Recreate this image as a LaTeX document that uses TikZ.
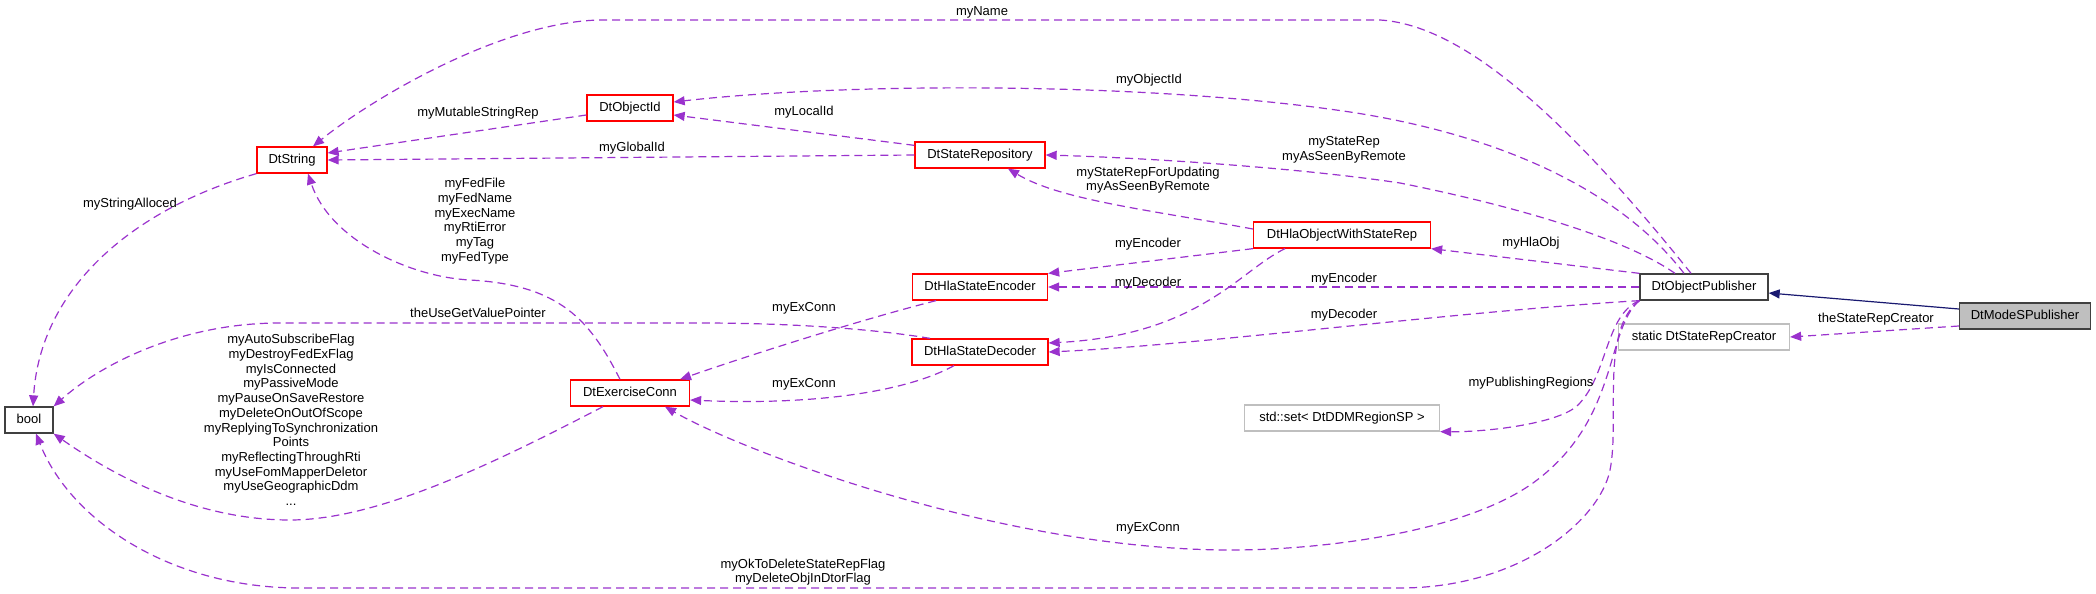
\documentclass[tikz,border=0pt]{standalone}
\usepackage{fontspec}
\setmainfont{Liberation Sans}
\usetikzlibrary{arrows.meta}
\definecolor{usecol}{HTML}{9A32CD}
\definecolor{navy}{HTML}{191970}
\definecolor{boxgray}{HTML}{BFBFBF}
\definecolor{boxdark}{HTML}{404040}
\begin{document}
\begin{tikzpicture}[x=1pt,y=-1pt,
   font=\fontsize{13}{14.7}\selectfont,
   box/.style={draw,line width=1.3pt,minimum height=26pt,inner xsep=11pt,inner ysep=0pt,text height=9.5pt,text depth=2.5pt},
   redbox/.style={box,draw=red},
   blackbox/.style={box,draw=boxdark},
   extbox/.style={box,draw=boxgray},
   uses/.style={draw=usecol,line width=1.2pt,dash pattern=on 8pt off 5pt,-{Triangle[length=11pt,width=9pt]}},
   inherit/.style={draw=navy,line width=1.2pt,-{Triangle[length=11pt,width=9pt]}},
   lbl/.style={align=center,inner sep=0pt}]
   \useasboundingbox (0,0) rectangle (2096,594);
   % classes
   \node[blackbox,minimum width=48] (bool) at (29,420) {bool};
   \node[redbox,minimum width=70] (str) at (292,160) {DtString};
   \node[redbox,minimum width=86] (objid) at (630,108) {DtObjectId};
   \node[redbox,minimum width=119] (exconn) at (630,393) {DtExerciseConn};
   \node[redbox,minimum width=130] (repo) at (980,155) {DtStateRepository};
   \node[redbox,minimum width=135] (enc) at (980,287) {DtHlaStateEncoder};
   \node[redbox,minimum width=136] (dec) at (980,352) {DtHlaStateDecoder};
   \node[redbox,minimum width=177] (hlaobj) at (1342,235) {DtHlaObjectWithStateRep};
   \node[extbox,minimum width=195] (stdset) at (1342,418) {std::set< DtDDMRegionSP >};
   \node[blackbox,minimum width=128] (pub) at (1704,287) {DtObjectPublisher};
   \node[extbox,minimum width=171] (creator) at (1704,337) {static DtStateRepCreator};
   \node[blackbox,fill=boxgray,minimum width=131] (modes) at (2025,316) {DtModeSPublisher};
   % inheritance
   \draw[inherit] ([yshift=7pt]modes.west) -- ([yshift=-6pt]pub.east);
   \draw[uses] ([yshift=-10pt]modes.west) -- (creator.east);
   % members of DtObjectPublisher
   \draw[uses] ([xshift=-13pt]pub.north) .. controls (1560,110) and (1460,25) .. (1380,20) -- (600,20)
      .. controls (500,22) and (370,100) .. ([xshift=21pt]str.north);
   \draw[uses] ([xshift=-20pt]pub.north) .. controls (1620,190) and (1500,135) .. (1350,112)
      .. controls (1150,82) and (850,82) .. ([yshift=6pt]objid.east);
   \draw[uses] ([xshift=-29pt]pub.north) .. controls (1620,235) and (1500,203) .. (1400,183)
      .. controls (1300,168) and (1150,158) .. (repo.east);
   \draw[uses] (pub.north west) -- (hlaobj.south east);
   \draw[uses] (pub.west) -- (enc.east);
   \draw[uses] (pub.south west) .. controls (1450,312) and (1200,345) .. (dec.east);
   \draw[uses] (pub.south west) .. controls (1605,315) and (1608,375) .. (1578,405)
      .. controls (1560,423) and (1490,432) .. (stdset.south east);
   \draw[uses] (pub.south west) .. controls (1605,330) and (1620,420) .. (1533,483)
      .. controls (1463,533) and (1320,550) .. (1231,550)
      .. controls (1000,550) and (740,450) .. ([xshift=35pt]exconn.south);
   \draw[uses] (pub.south west) .. controls (1600,330) and (1620,420) .. (1610,470)
      .. controls (1600,520) and (1520,588) .. (1400,588) -- (300,588)
      .. controls (170,588) and (70,520) .. ([xshift=7pt]bool.south);
   % members of the other classes
   \draw[uses] ([yshift=-7pt]objid.west) -- ([yshift=7pt]str.east);
   \draw[uses] (repo.west) -- (str.east);
   \draw[uses] ([yshift=-4pt]repo.north west) -- ([yshift=-7pt]objid.east);
   \draw[uses] ([yshift=6pt]hlaobj.west) .. controls (1150,210) and (1060,200) .. ([xshift=28pt]repo.south);
   \draw[uses] (hlaobj.south west) -- (enc.north east);
   \draw[uses] ([xshift=-57pt]hlaobj.south) .. controls (1240,270) and (1200,335) .. ([yshift=9pt]dec.east);
   \draw[uses] ([xshift=-44pt]enc.south) .. controls (860,320) and (750,355) .. ([xshift=50pt]exconn.north);
   \draw[uses] ([xshift=-26pt]dec.south) .. controls (900,395) and (800,405) .. ([yshift=-7pt]exconn.east);
   \draw[uses] ([xshift=-50pt]dec.north) .. controls (880,330) and (800,323) .. (700,323) -- (280,323)
      .. controls (180,323) and (100,365) .. (bool.north east);
   \draw[uses] (str.south west) .. controls (130,210) and (40,290) .. ([xshift=4pt]bool.north);
   \draw[uses] ([xshift=-10pt]exconn.north) .. controls (590,320) and (560,285) .. (470,280)
      .. controls (410,277) and (330,240) .. ([xshift=16pt]str.south);
   \draw[uses] ([xshift=-27pt]exconn.south) .. controls (500,460) and (380,520) .. (290,520)
      .. controls (200,520) and (120,480) .. (bool.south east);
   % labels
   \node[lbl] (lname) at (982,12) {myName};
   \node[lbl] (lobjid) at (1149,80) {myObjectId};
   \node[lbl] (lmut) at (478,113) {myMutableStringRep};
   \node[lbl] (llocal) at (804,112) {myLocalId};
   \node[lbl] (lglobal) at (632,148) {myGlobalId};
   \node[lbl] (lstate) at (1344,150) {myStateRep\\myAsSeenByRemote};
   \node[lbl] (lupd) at (1148,180) {myStateRepForUpdating\\myAsSeenByRemote};
   \node[lbl] (lalloc) at (130,204) {myStringAlloced};
   \node[lbl] (lfed) at (475,221) {myFedFile\\myFedName\\myExecName\\myRtiError\\myTag\\myFedType};
   \node[lbl] (lenc) at (1148,244) {myEncoder};
   \node[lbl] (lhla) at (1531,243) {myHlaObj};
   \node[lbl] (lenc2) at (1344,279) {myEncoder};
   \node[lbl] (ldec) at (1148,283) {myDecoder};
   \node[lbl] (lex) at (804,308) {myExConn};
   \node[lbl] (lval) at (478,313) {theUseGetValuePointer};
   \node[lbl] (ldec2) at (1344,315) {myDecoder};
   \node[lbl] (lcreator) at (1876,319) {theStateRepCreator};
   \node[lbl] (lflags) at (291,420) {myAutoSubscribeFlag\\myDestroyFedExFlag\\myIsConnected\\myPassiveMode\\myPauseOnSaveRestore\\myDeleteOnOutOfScope\\myReplyingToSynchronization\\Points\\myReflectingThroughRti\\myUseFomMapperDeletor\\myUseGeographicDdm\\...};
   \node[lbl] (lregions) at (1531,383) {myPublishingRegions};
   \node[lbl] (lex2) at (804,384) {myExConn};
   \node[lbl] (lex3) at (1148,528) {myExConn};
   \node[lbl] (lok) at (803,572) {myOkToDeleteStateRepFlag\\myDeleteObjInDtorFlag};
\end{tikzpicture}
\end{document}
